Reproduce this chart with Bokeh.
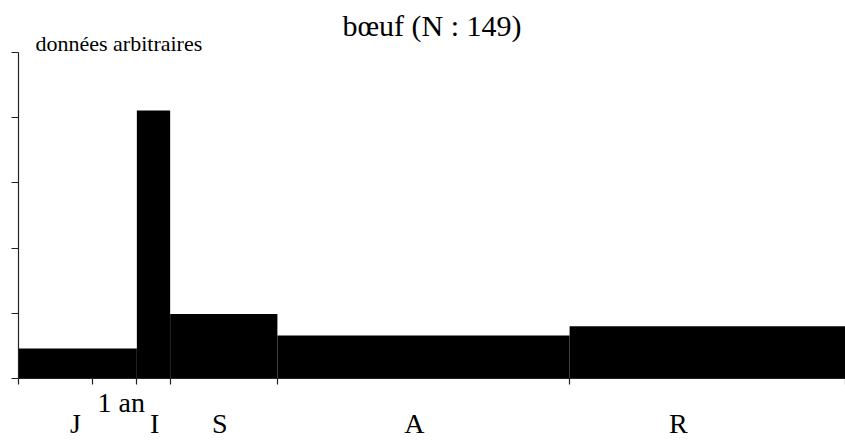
from bokeh.plotting import figure
from bokeh.models import FixedTicker, LinearAxis, Title
from bokeh.embed import file_html
from bokeh.resources import INLINE

# Age classes (x in years, arbitrary units of the original chart)
class_labels = ["J", "I", "S", "A", "R"]
class_left = [0.0, 1.6, 2.05, 3.5, 7.45]
class_right = [1.6, 2.05, 3.5, 7.45, 11.18]
values = [0.46, 4.11, 0.99, 0.66, 0.80]   # données arbitraires
x_ticks = [0.0, 1.0, 1.6, 2.05, 3.5, 7.45, 11.18]
y_ticks = [0, 1, 2, 3, 4, 5]
label_x = [0.77, 1.84, 2.72, 5.35, 8.92]
year_tick = [1.39]
year_label = "1 an"
title_text = "bœuf (N : 149)"
y_caption = "données arbitraires"

FONT = "Liberation Serif"

p = figure(width=845, height=441, x_range=(0, 11.18), y_range=(0, 5),
           output_backend="svg", toolbar_location=None,
           x_axis_location=None, y_axis_location=None,
           min_border_left=18, min_border_right=0,
           min_border_top=52, min_border_bottom=62)
p.outline_line_color = None
p.xgrid.visible = False
p.ygrid.visible = False
p.background_fill_color = "white"

p.quad(left=class_left, right=class_right, bottom=0, top=values,
       fill_color="black", line_color=None)


def tick_axis(ticks, tick_out):
    ax = LinearAxis(ticker=FixedTicker(ticks=ticks))
    ax.major_tick_in = 0
    ax.major_tick_out = tick_out
    ax.minor_tick_line_color = None
    ax.major_label_overrides = {t: "" for t in ticks}
    ax.major_label_text_font_size = "1px"
    ax.major_label_standoff = 0
    ax.axis_line_color = "#222222"
    ax.major_tick_line_color = "#222222"
    ax.axis_line_width = 1.2
    ax.major_tick_line_width = 1.2
    return ax


def text_axis(ticks, labels, standoff):
    ax = LinearAxis(ticker=FixedTicker(ticks=ticks))
    ax.major_label_overrides = dict(zip(ticks, labels))
    ax.axis_line_color = None
    ax.major_tick_line_color = None
    ax.minor_tick_line_color = None
    ax.major_tick_in = 0
    ax.major_tick_out = 0
    ax.major_label_standoff = standoff
    ax.major_label_text_font = FONT
    ax.major_label_text_font_size = "28px"
    ax.major_label_text_color = "black"
    return ax


p.add_layout(tick_axis(y_ticks, 7), "left")
p.add_layout(tick_axis(x_ticks, 6), "below")
p.add_layout(text_axis(year_tick, [year_label], 2), "below")
p.add_layout(text_axis(label_x, class_labels, -13), "below")

cap = Title(text=y_caption, align="left", offset=17, standoff=-6,
            text_font=FONT, text_font_size="22px", text_font_style="normal",
            text_color="black")
p.add_layout(cap, "above")
main = Title(text=title_text, align="center", offset=1, standoff=-21,
             text_font=FONT, text_font_size="30px", text_font_style="normal",
             text_color="black")
p.add_layout(main, "above")

open("out.html", "w").write(file_html(p, INLINE))
